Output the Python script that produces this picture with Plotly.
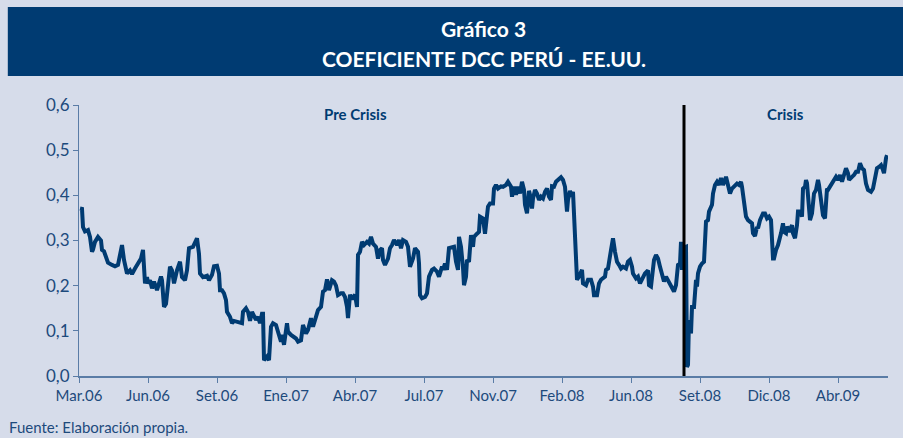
import plotly.graph_objects as go

# trading-day index (observation number) and DCC coefficient
obs = [1, 3, 4, 6, 9, 11, 13, 14, 16, 19, 22, 23, 25, 27, 29, 33, 36, 39, 42, 43, 45, 48, 51, 53, 56, 59, 62, 64, 65, 66, 68, 69, 71, 73, 75, 78, 80, 82, 83, 85, 87, 89, 91, 93, 95, 98, 101, 103, 106, 108, 110, 114, 118, 120, 121, 124, 128, 130, 133,
       135, 138, 140, 141, 143, 145, 147, 148, 151, 153, 155, 159, 163, 164, 167, 169, 171, 173, 175, 177, 179, 181, 183, 184, 185, 188, 190, 192, 194, 197, 199, 202, 203, 205, 208, 209, 212, 214, 217, 219, 222, 224, 227, 229, 232, 234, 237, 239, 242, 244, 246, 248, 250, 253, 255, 257, 259, 262, 264,
       266, 268, 269, 271, 273, 276, 278, 279, 281, 283, 285, 288, 290, 292, 294, 297, 299, 301, 303, 304, 306, 309, 311, 313, 315, 318, 320, 322, 324, 327, 329, 331, 333, 334, 336, 339, 340, 341, 343, 346, 348, 350, 353, 355, 358, 360, 363, 364, 366, 368, 370, 373, 375, 377, 379, 380, 382, 384, 385, 387, 388, 390, 392, 394, 395, 398, 400, 401, 403,
       404, 406, 408, 409, 411, 414, 415, 417, 419, 422, 424, 427, 429, 432, 433, 435, 437, 439, 441, 443, 445, 446, 448, 450, 451, 453, 454, 456, 458, 460, 462, 464, 466, 468, 470, 472, 473, 475, 477, 479, 482, 484, 486, 488, 489, 491, 493, 494, 496, 497, 498, 500, 503, 504, 507, 509, 512, 514, 515, 518, 520, 522, 524, 526, 527, 529, 532, 534, 536, 538, 540,
       542, 544, 547, 549, 551, 553, 554, 557, 559, 561, 563, 566, 569, 570, 572, 574, 575, 577, 579, 581, 583, 585, 587, 589, 591, 593, 595, 597, 599, 601, 602, 603, 604, 606, 607, 608, 609, 610, 612, 613, 615, 617, 618, 619, 621, 623, 625, 627, 629, 630, 633, 634, 636, 638, 640, 642, 644, 647, 649, 651, 653, 656, 658, 660, 662, 663, 665, 667, 669, 671, 673, 674, 676,
       678, 679, 681, 684, 686, 688, 690, 692, 694, 695, 697, 699, 702, 704, 705, 707, 708, 710, 713, 714, 716, 718, 719, 721, 723, 724, 726, 727, 728, 730, 731, 733, 735, 737, 739, 740, 742, 743, 744, 746, 748, 749, 751, 753, 755, 757, 759, 761, 763, 765, 767, 769, 770, 773, 775, 777, 779, 781, 783, 785, 787, 789, 792, 794, 796, 798, 800, 802, 804, 805, 807, 808]

dcc = [0.371, 0.37, 0.33, 0.32, 0.323, 0.308, 0.275, 0.28, 0.297, 0.308, 0.30, 0.279, 0.276, 0.26, 0.251, 0.246, 0.243, 0.246, 0.29, 0.29, 0.257, 0.227, 0.234, 0.226, 0.238, 0.249, 0.26, 0.279, 0.243, 0.205, 0.219, 0.205, 0.212, 0.194, 0.209, 0.19, 0.205, 0.22, 0.212, 0.153, 0.16, 0.2, 0.242, 0.234, 0.205, 0.234, 0.253, 0.219, 0.212, 0.234, 0.283, 0.286, 0.305, 0.27, 0.227, 0.219, 0.222, 0.212, 0.224,
       0.243, 0.244, 0.227, 0.19, 0.19, 0.183, 0.168, 0.142, 0.131, 0.117, 0.122, 0.12, 0.117, 0.142, 0.15, 0.142, 0.122, 0.142, 0.135, 0.124, 0.131, 0.117, 0.138, 0.138, 0.035, 0.043, 0.035, 0.109, 0.117, 0.113, 0.098, 0.076, 0.091, 0.069, 0.117, 0.098, 0.091, 0.087, 0.083, 0.076, 0.079, 0.113, 0.094, 0.102, 0.128, 0.109, 0.128, 0.146, 0.153, 0.187, 0.19, 0.214, 0.19, 0.212, 0.209, 0.2, 0.179, 0.183, 0.183,
       0.175, 0.153, 0.128, 0.18, 0.17, 0.18, 0.153, 0.268, 0.275, 0.297, 0.29, 0.297, 0.293, 0.308, 0.293, 0.286, 0.26, 0.279, 0.283, 0.257, 0.246, 0.26, 0.283, 0.29, 0.301, 0.29, 0.301, 0.283, 0.301, 0.297, 0.286, 0.242, 0.257, 0.26, 0.283, 0.275, 0.25, 0.179, 0.172, 0.175, 0.183, 0.22, 0.235, 0.238, 0.231, 0.22, 0.242, 0.235, 0.249, 0.235, 0.283, 0.286, 0.286, 0.253, 0.235, 0.308, 0.286, 0.24, 0.201, 0.22, 0.257, 0.253, 0.312, 0.286, 0.308, 0.315, 0.319, 0.353, 0.349,
       0.349, 0.315, 0.345, 0.375, 0.382, 0.382, 0.415, 0.423, 0.415, 0.42, 0.419, 0.423, 0.43, 0.419, 0.397, 0.419, 0.401, 0.419, 0.404, 0.43, 0.412, 0.379, 0.36, 0.41, 0.401, 0.371, 0.393, 0.412, 0.404, 0.39, 0.397, 0.393, 0.408, 0.415, 0.397, 0.39, 0.42, 0.419, 0.43, 0.434, 0.44, 0.434, 0.419, 0.364, 0.39, 0.41, 0.397, 0.408, 0.316, 0.242, 0.213, 0.22, 0.235, 0.205, 0.201, 0.213, 0.213, 0.198, 0.179, 0.179, 0.205, 0.213, 0.216, 0.22, 0.235, 0.238, 0.279, 0.305, 0.275, 0.253, 0.246,
       0.238, 0.242, 0.238, 0.253, 0.257, 0.242, 0.227, 0.216, 0.22, 0.205, 0.216, 0.227, 0.234, 0.201, 0.198, 0.234, 0.257, 0.268, 0.26, 0.242, 0.22, 0.209, 0.22, 0.212, 0.205, 0.194, 0.187, 0.201, 0.246, 0.249, 0.297, 0.235, 0.29, 0.285, 0.286, 0.02, 0.025, 0.124, 0.094, 0.153, 0.153, 0.213, 0.198, 0.227, 0.242, 0.249, 0.253, 0.342, 0.345, 0.364, 0.379, 0.404, 0.423, 0.43, 0.423, 0.438, 0.423, 0.441, 0.419, 0.404, 0.415, 0.423, 0.426, 0.423, 0.43, 0.419, 0.375, 0.353, 0.345, 0.34, 0.338, 0.316, 0.31,
       0.33, 0.327, 0.345, 0.36, 0.36, 0.349, 0.353, 0.345, 0.26, 0.26, 0.279, 0.29, 0.316, 0.338, 0.319, 0.316, 0.331, 0.319, 0.334, 0.316, 0.305, 0.334, 0.364, 0.364, 0.353, 0.415, 0.419, 0.434, 0.427, 0.375, 0.345, 0.36, 0.404, 0.412, 0.434, 0.423, 0.393, 0.375, 0.356, 0.349, 0.415, 0.412, 0.419, 0.426, 0.434, 0.441, 0.434, 0.445, 0.43, 0.445, 0.46, 0.449, 0.434, 0.441, 0.445, 0.452, 0.452, 0.471, 0.46, 0.456, 0.426, 0.412, 0.408, 0.415, 0.441, 0.46, 0.463, 0.467, 0.456, 0.449, 0.482, 0.489]

tick_obs = [0, 69, 138, 207, 276, 345, 414, 483, 552, 621, 690, 759]
tick_labels = ["Mar.06", "Jun.06", "Set.06", "Ene.07", "Abr.07", "Jul.07", "Nov.07",
               "Feb.08", "Jun.08", "Set.08", "Dic.08", "Abr.09"]
crisis_start = 605
title_1 = "Gráfico 3"
title_2 = "COEFICIENTE DCC PERÚ - EE.UU."

BG = "#d6dcea"
NAVY = "#003b72"
AXIS = "#5a7ca6"
TXT = "#1d4a7c"
FONT = "Lato, sans-serif"

fig = go.Figure()
fig.add_trace(go.Scatter(x=obs, y=dcc, mode="lines",
                         line=dict(color=NAVY, width=4), hoverinfo="skip"))

fig.add_shape(type="line", xref="x", yref="y", x0=crisis_start, x1=crisis_start,
              y0=0, y1=0.602, line=dict(color="black", width=3))

# title banner
fig.add_shape(type="rect", xref="paper", yref="paper", x0=-0.088, x1=1.02,
              y0=1.107, y1=1.362, fillcolor=NAVY, line=dict(width=0), layer="below")
fig.add_annotation(text="<b>" + title_1 + "</b>", xref="paper", yref="paper",
                   x=0.5, y=1.284, yanchor="middle", showarrow=False,
                   font=dict(family=FONT, size=21, color="white"))
fig.add_annotation(text="<b>" + title_2 + "</b>", xref="paper", yref="paper",
                   x=0.5, y=1.173, yanchor="middle", showarrow=False,
                   font=dict(family=FONT, size=21, color="white"))

fig.add_annotation(text="<b>Pre Crisis</b>", xref="x", yref="y", x=276, y=0.58,
                   yanchor="middle", showarrow=False, font=dict(family=FONT, size=15, color=NAVY))
fig.add_annotation(text="<b>Crisis</b>", xref="x", yref="y", x=706, y=0.58,
                   yanchor="middle", showarrow=False, font=dict(family=FONT, size=15, color=NAVY))
fig.add_annotation(text="Fuente: Elaboración propia.", xref="paper", yref="paper",
                   x=-0.089, y=-0.188, xanchor="left", yanchor="middle", showarrow=False,
                   font=dict(family=FONT, size=15, color=TXT))

fig.update_layout(
    width=903, height=438,
    margin=dict(l=79, r=15, t=105, b=62),
    paper_bgcolor=BG, plot_bgcolor=BG,
    showlegend=False,
    separators=",.",
    font=dict(family=FONT, size=15, color=TXT),
)
fig.update_xaxes(range=[0, 809], tickmode="array", tickvals=tick_obs, ticktext=tick_labels,
                 showgrid=False, zeroline=False, showline=True, linecolor=AXIS, linewidth=2,
                 ticks="outside", ticklen=5, tickcolor=AXIS, tickwidth=1,
                 tickfont=dict(family=FONT, size=15, color=TXT))
fig.update_yaxes(range=[0, 0.6], dtick=0.1, tickformat=".1f",
                 showgrid=False, zeroline=False, showline=True, linecolor=AXIS, linewidth=1,
                 ticks="outside", ticklen=5, tickcolor=AXIS, tickwidth=1,
                 tickfont=dict(family=FONT, size=17, color=TXT))

fig.write_html("out.html", config={"displayModeBar": False},
               post_script="document.body.style.margin='0';document.body.style.background='" + BG + "';")
